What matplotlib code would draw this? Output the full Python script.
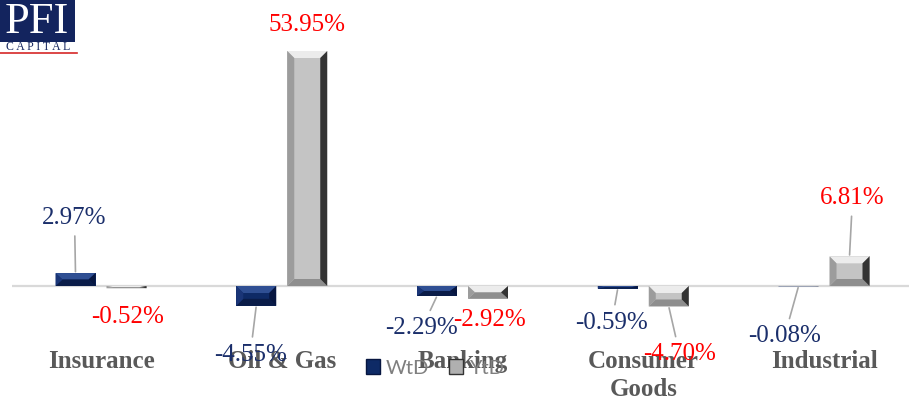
import matplotlib.pyplot as plt
from matplotlib.patches import Polygon, Rectangle, Patch
import numpy as np

# Data
categories = ['Insurance', 'Oil & Gas', 'Banking', 'Consumer\nGoods', 'Industrial']
wtd = [2.97, -4.55, -2.29, -0.59, -0.08]
ytd = [-0.52, 53.95, -2.92, -4.70, 6.81]

# label offsets from bar end, in pixels (dx, dy) and whether a leader line is drawn
wtd_offsets = [(-1, 55, True), (-6, -49, True), (-15, -32, True), (-6, -34, True), (-14, -50, True)]
ytd_offsets = [(1, -29, False), (0, 26, False), (2, -21, False), (11, -48, True), (3, 58, True)]

NAVY = '#0e2a66'
NAVY_TXT = '#1b2f6b'
RED = '#ff0000'

fig = plt.figure(figsize=(9.09, 3.99), dpi=100)
ax = fig.add_axes([12 / 909, 0, 1 - 12 / 909, 1])

px_x = 180.75          # pixels per category
px_y = 235 / 53.95     # pixels per percent
ax.set_xlim(-(101 - 12) / px_x, 4 + (909 - 824) / px_x)
ax.set_ylim(-113 / px_y, (399 - 113) / px_y)
ax.axis('off')

x = np.arange(len(categories))
bw = 40 / px_x
off = 25.5 / px_x

ax.axhline(0, color='#d9d9d9', lw=1.6, zorder=1)

b1 = ax.bar(x - off, wtd, bw, color=NAVY, zorder=2, linewidth=0)
b2 = ax.bar(x + off, ytd, bw, color='#c4c4c4', zorder=2, linewidth=0)

navy_cols = dict(top='#2f4f93', bottom='#0a1c48', left='#1a3577', right='#071640')
gray_cols = dict(top='#ececec', bottom='#8e8e8e', left='#9c9c9c', right='#333333')


def bevel(bar, cols):
    x0 = bar.get_x()
    x1 = x0 + bar.get_width()
    y0 = bar.get_y()
    y1 = y0 + bar.get_height()
    lo, hi = min(y0, y1), max(y0, y1)
    bx = min(7 / px_x, (x1 - x0) / 2)
    by = min(7 / px_y, (hi - lo) / 2)
    polys = {
        'top': [(x0, hi), (x1, hi), (x1 - bx, hi - by), (x0 + bx, hi - by)],
        'bottom': [(x0, lo), (x1, lo), (x1 - bx, lo + by), (x0 + bx, lo + by)],
        'left': [(x0, lo), (x0 + bx, lo + by), (x0 + bx, hi - by), (x0, hi)],
        'right': [(x1, lo), (x1 - bx, lo + by), (x1 - bx, hi - by), (x1, hi)],
    }
    for k, p in polys.items():
        ax.add_patch(Polygon(p, closed=True, facecolor=cols[k], edgecolor='none', zorder=3))


for b in b1:
    bevel(b, navy_cols)
for b in b2:
    bevel(b, gray_cols)

lab_font = dict(family='Liberation Serif', fontsize=18)


def label(xc, v, offs, color):
    dx, dy, line = offs
    ap = dict(arrowstyle='-', color='#a6a6a6', lw=1.2, shrinkA=3, shrinkB=1) if line else None
    ax.annotate(f'{v:.2f}%', (xc, v), xytext=(dx, dy), textcoords='offset pixels',
                ha='center', va='center', color=color, arrowprops=ap, zorder=5, **lab_font)


for i in range(len(categories)):
    label(x[i] - off, wtd[i], wtd_offsets[i], NAVY_TXT)
    label(x[i] + off, ytd[i], ytd_offsets[i], RED)

for i, c in enumerate(categories):
    ax.text(x[i], -(350 - 286) / px_y, c, ha='center', va='top', fontsize=18,
            fontweight='bold', family='Liberation Serif', color='#595959',
            linespacing=1.25, zorder=4)

handles = [Patch(facecolor=NAVY, edgecolor='#071640', label='WtD'),
           Patch(facecolor='#b0b0b0', edgecolor='#333333', label='YtD')]
fig.legend(handles=handles, loc='center', bbox_to_anchor=(435 / 909, 1 - 368 / 399),
           ncol=2, frameon=False, handlelength=0.7, handleheight=0.7, handletextpad=0.3,
           columnspacing=1.0, prop=dict(family='Lato', size=14.5), labelcolor='#7f7f7f')

# logo
fig.patches.append(Rectangle((0, 1 - 42 / 399), 75 / 909, 42 / 399, transform=fig.transFigure,
                             facecolor='#13245e', edgecolor='none'))
fig.text(37 / 909, 1 - 22 / 399, 'PFI', color='white', ha='center', va='center',
         family='Liberation Serif', fontsize=32)
fig.text(38 / 909, 1 - 47.5 / 399, 'C A P I T A L', color='#13245e', ha='center', va='center',
         family='Liberation Serif', fontsize=8.5)
fig.lines.append(plt.Line2D([0, 77 / 909], [1 - 53 / 399] * 2, transform=fig.transFigure,
                            color='#d62828', lw=1.2))

fig.savefig('out.png', dpi=100)
